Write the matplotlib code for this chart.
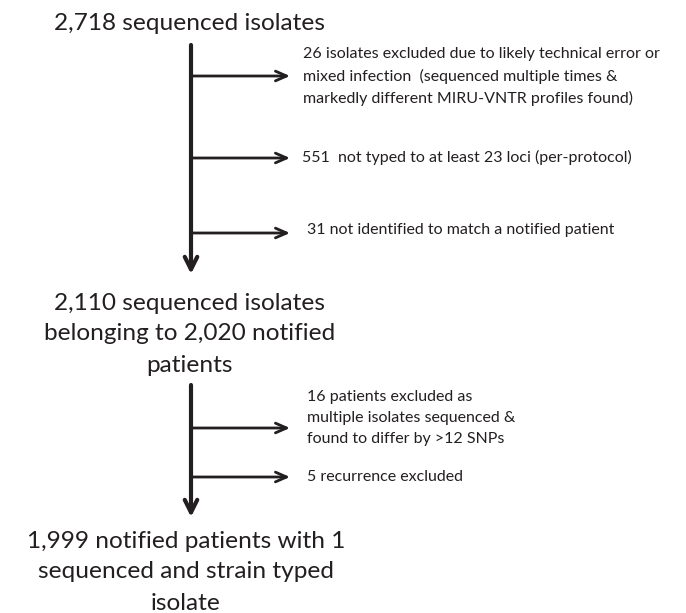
import matplotlib.pyplot as plt

# flow diagram content (one entry per line of text)
stage_1 = ["2,718 sequenced isolates"]
stage_2 = ["2,110 sequenced isolates", "belonging to 2,020 notified", "patients"]
stage_3 = ["1,999 notified patients with 1", "sequenced and strain typed", "isolate"]

excl_a = ["26 isolates excluded due to likely technical error or",
          "mixed infection  (sequenced multiple times &",
          "markedly different MIRU-VNTR profiles found)"]
excl_b = ["551  not typed to at least 23 loci (per-protocol)"]
excl_c = ["31 not identified to match a notified patient"]
excl_d = ["16 patients excluded as",
          "multiple isolates sequenced &",
          "found to differ by >12 SNPs"]
excl_e = ["5 recurrence excluded"]

# layout in pixels (origin top-left)
W, H = 686, 613
x_main = 191
x_tip = 290
col = '#231f20'

plt.rcParams['font.family'] = ['Lato', 'DejaVu Sans']
fig = plt.figure(figsize=(W / 100, H / 100), dpi=100)
ax = fig.add_axes([0, 0, 1, 1])
ax.set_xlim(0, W)
ax.set_ylim(H, 0)
ax.axis('off')
renderer = fig.canvas.get_renderer()


def fit_size(s, target_px, guess=12):
    t = ax.text(0, 0, s, fontsize=guess)
    w = t.get_window_extent(renderer).width
    t.remove()
    return guess * target_px / w


big = fit_size(stage_2[1], 290)
small = fit_size(excl_a[0], 357)


def block(lines, x, yc, pitch, size, ha):
    n = len(lines)
    for i, s in enumerate(lines):
        y = yc + (i - (n - 1) / 2) * pitch
        ax.text(x, y, s, ha=ha, va='center', fontsize=size, color=col)


def trunk(y0, y1):
    ax.annotate('', xy=(x_main, y1), xytext=(x_main, y0),
                arrowprops=dict(arrowstyle='->,head_length=0.9,head_width=0.45',
                                lw=3, color=col, shrinkA=0, shrinkB=0))


def branch(y):
    ax.annotate('', xy=(x_tip, y), xytext=(x_main, y),
                arrowprops=dict(arrowstyle='->,head_length=0.8,head_width=0.35',
                                lw=2, color=col, shrinkA=0, shrinkB=0))


block(stage_1, 190, 23, 31, big, 'center')
block(stage_2, 190, 334, 31, big, 'center')
block(stage_3, 186, 572, 31, big, 'center')

trunk(45, 274)
trunk(385, 517)

branch(76)
block(excl_a, 303, 76, 22, small, 'left')
branch(158)
block(excl_b, 302, 157, 22, small, 'left')
branch(233)
block(excl_c, 307, 230, 22, small, 'left')
branch(428)
block(excl_d, 307, 418, 20.5, small, 'left')
branch(477)
block(excl_e, 307, 477, 20.5, small, 'left')

fig.savefig('out.png', dpi=100, facecolor='white')
